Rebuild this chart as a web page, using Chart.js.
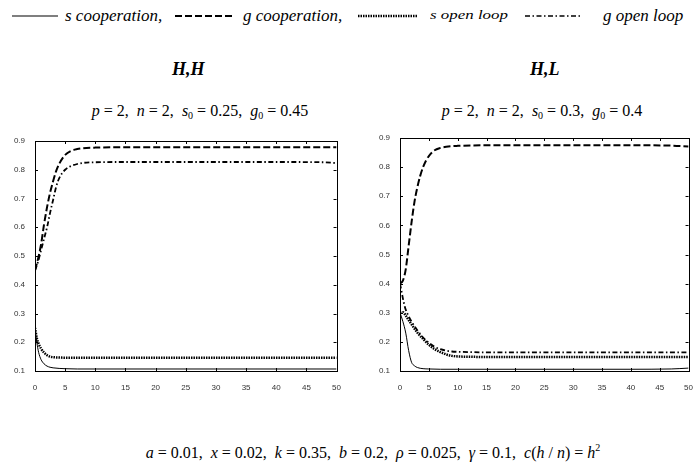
<!DOCTYPE html>
<html lang="en">
<head>
  <meta charset="UTF-8">
  <title>H,H and H,L trajectories</title>
  <script src="https://cdn.jsdelivr.net/npm/chart.js"></script>
  <style>
    html, body {
      margin: 0;
      padding: 0;
      background: #fff;
      width: 697px;
      height: 466px;
      overflow: hidden;
    }

    .txt {
      position: absolute;
      font-family: "Liberation Serif", "Times New Roman", serif;
      color: #000;
      white-space: nowrap;
      line-height: 1;
    }

    .legend { font-size: 17px; font-style: italic; top: 7px; }
    .legend.small { font-size: 13px; top: 8px; transform: scaleX(1.3); transform-origin: left center; }
    .title { font-size: 18px; font-weight: bold; font-style: italic; top: 60px; }
    .sub { font-size: 16px; top: 103px; text-align: center; }
    .formula { font-size: 16px; top: 443px; left: 0; width: 746px; text-align: center; }
    sub { font-size: 10px; vertical-align: -3px; }
    sup { font-size: 10px; vertical-align: 7px; }

    .chart-box { position: absolute; }
    svg.key { position: absolute; top: 10px; }
  </style>
</head>
<body>

  <!-- legend row -->
  <svg class="key" style="left:12px" width="46" height="12"><line x1="0" y1="6" x2="46" y2="6" stroke="#000" stroke-width="1.2"/></svg>
  <div class="txt legend" style="left:65px">s cooperation,</div>
  <svg class="key" style="left:175px" width="57" height="12"><line x1="0" y1="6" x2="57" y2="6" stroke="#000" stroke-width="2" stroke-dasharray="7,3"/></svg>
  <div class="txt legend" style="left:243px">g cooperation,</div>
  <svg class="key" style="left:358px" width="60" height="12"><line x1="0" y1="6" x2="60" y2="6" stroke="#000" stroke-width="2.5" stroke-dasharray="1.5,1"/></svg>
  <div class="txt legend small" style="left:430px">s open loop</div>
  <svg class="key" style="left:525px" width="57" height="12"><line x1="0" y1="6" x2="57" y2="6" stroke="#000" stroke-width="1.6" stroke-dasharray="5,2.5,1.5,2.5"/></svg>
  <div class="txt legend" style="left:603px">g open loop</div>

  <!-- panel titles -->
  <div class="txt title" style="left:172px">H,H</div>
  <div class="txt title" style="left:530px">H,L</div>

  <div class="txt sub" style="left:80px;width:240px"><i>p</i> = 2,&nbsp; <i>n</i> = 2,&nbsp; <i>s</i><sub>0</sub> = 0.25,&nbsp; <i>g</i><sub>0</sub> = 0.45</div>
  <div class="txt sub" style="left:422px;width:240px"><i>p</i> = 2,&nbsp; <i>n</i> = 2,&nbsp; <i>s</i><sub>0</sub> = 0.3,&nbsp; <i>g</i><sub>0</sub> = 0.4</div>

  <div class="chart-box" style="left:0px;top:132px;width:345px;height:260px"><canvas id="chartHH"></canvas></div>
  <div class="chart-box" style="left:362px;top:130px;width:335px;height:262px"><canvas id="chartHL"></canvas></div>

  <div class="txt formula"><i>a</i> = 0.01,&nbsp; <i>x</i> = 0.02,&nbsp; <i>k</i> = 0.35,&nbsp; <i>b</i> = 0.2,&nbsp; <i>ρ</i> = 0.025,&nbsp; <i>γ</i> = 0.1,&nbsp; <i>c</i>(<i>h</i> / <i>n</i>) = <i>h</i><sup>2</sup></div>

  <script>
    // ---- H,H panel (p=2, n=2, s0=0.25, g0=0.45) ----
    const sCoopHH_t = [0, 0.3, 0.6, 1, 1.5, 2, 2.5, 3, 4, 5, 7, 10, 20, 30, 40, 50];
    const sCoopHH   = [0.25, 0.2, 0.165, 0.14, 0.125, 0.117, 0.113, 0.111, 0.109, 0.108, 0.107, 0.107, 0.107, 0.107, 0.107, 0.107];

    const gCoopHH_t = [0, 0.5, 1, 1.5, 2, 2.5, 3, 3.5, 4, 5, 6, 7, 8, 10, 15, 20, 30, 40, 50];
    const gCoopHH   = [0.45, 0.49, 0.54, 0.61, 0.67, 0.72, 0.76, 0.795, 0.82, 0.852, 0.866, 0.872, 0.875, 0.877, 0.878, 0.878, 0.878, 0.878, 0.878];

    const sOpenHH_t = [0, 0.3, 0.6, 1, 1.5, 2, 2.5, 3, 4, 5, 10, 20, 30, 40, 50];
    const sOpenHH   = [0.25, 0.215, 0.195, 0.178, 0.164, 0.155, 0.15, 0.148, 0.147, 0.146, 0.146, 0.146, 0.146, 0.146, 0.146];

    const gOpenHH_t = [0, 0.5, 1, 1.5, 2, 2.5, 3, 3.5, 4, 5, 6, 7, 8, 10, 15, 20, 30, 40, 48, 50];
    const gOpenHH   = [0.45, 0.48, 0.52, 0.56, 0.6, 0.65, 0.695, 0.74, 0.77, 0.8, 0.813, 0.82, 0.824, 0.826, 0.827, 0.827, 0.827, 0.827, 0.826, 0.823];

    // ---- H,L panel (p=2, n=2, s0=0.3, g0=0.4) ----
    const sCoopHL_t = [0, 0.5, 1, 1.5, 2, 2.5, 3, 4, 5, 7, 10, 20, 30, 40, 47, 50];
    const sCoopHL   = [0.3, 0.27, 0.23, 0.17, 0.13, 0.118, 0.112, 0.108, 0.107, 0.106, 0.106, 0.106, 0.106, 0.106, 0.107, 0.11];

    const gCoopHL_t = [0, 0.5, 1, 1.5, 2, 2.5, 3, 3.5, 4, 4.5, 5, 6, 7, 8, 10, 15, 20, 30, 40, 47, 50];
    const gCoopHL   = [0.4, 0.41, 0.45, 0.53, 0.61, 0.68, 0.73, 0.77, 0.8, 0.822, 0.838, 0.858, 0.866, 0.87, 0.873, 0.875, 0.875, 0.875, 0.875, 0.874, 0.871];

    const sOpenHL_t = [0, 0.5, 1, 1.5, 2, 3, 4, 5, 6, 7, 8, 9, 10, 12, 15, 20, 30, 40, 50];
    const sOpenHL   = [0.3, 0.302, 0.29, 0.275, 0.26, 0.232, 0.21, 0.19, 0.175, 0.165, 0.157, 0.152, 0.15, 0.149, 0.148, 0.148, 0.148, 0.148, 0.148];

    const gOpenHL_t = [0, 0.3, 0.6, 1, 1.5, 2, 3, 4, 5, 6, 7, 8, 9, 10, 12, 15, 20, 30, 40, 50];
    const gOpenHL   = [0.4, 0.37, 0.34, 0.31, 0.288, 0.27, 0.24, 0.215, 0.197, 0.183, 0.175, 0.17, 0.167, 0.166, 0.165, 0.164, 0.164, 0.164, 0.164, 0.164];

    const xTicks = [0, 5, 10, 15, 20, 25, 30, 35, 40, 45, 50];
    const yTicks = [0.1, 0.2, 0.3, 0.4, 0.5, 0.6, 0.7, 0.8, 0.9];

    // line styles shared by both panels
    const styles = {
      sCoop: { borderWidth: 1, borderDash: [] },
      gCoop: { borderWidth: 2, borderDash: [7, 3] },
      sOpen: { borderWidth: 2.5, borderDash: [1.5, 1] },
      gOpen: { borderWidth: 1.8, borderDash: [5, 2.5, 1.5, 2.5] }
    };

    function series(t, v, style) {
      return Object.assign({
        data: t.map((x, i) => ({ x: x, y: v[i] })),
        borderColor: '#000',
        pointRadius: 0,
        fill: false,
        cubicInterpolationMode: 'monotone'
      }, style);
    }

    // box around the axes with inward tick marks on all four sides
    const frameTicks = {
      id: 'frameTicks',
      afterDraw(chart) {
        const { ctx, chartArea: a, scales } = chart;
        ctx.save();
        ctx.strokeStyle = '#000';
        ctx.lineWidth = 1;
        ctx.strokeRect(Math.round(a.left) + 0.5, Math.round(a.top) + 0.5,
          Math.round(a.right - a.left), Math.round(a.bottom - a.top));
        ctx.beginPath();
        xTicks.forEach(v => {
          const px = Math.round(scales.x.getPixelForValue(v)) + 0.5;
          ctx.moveTo(px, a.top); ctx.lineTo(px, a.top + 3);
          ctx.moveTo(px, a.bottom); ctx.lineTo(px, a.bottom - 3);
        });
        yTicks.forEach(v => {
          const py = Math.round(scales.y.getPixelForValue(v)) + 0.5;
          ctx.moveTo(a.left, py); ctx.lineTo(a.left + 3, py);
          ctx.moveTo(a.right, py); ctx.lineTo(a.right - 3, py);
        });
        ctx.stroke();
        ctx.restore();
      }
    };

    function makeChart(id, sets, yWidth, pad) {
      new Chart(document.getElementById(id), {
        type: 'line',
        data: { datasets: sets },
        options: {
          responsive: true,
          maintainAspectRatio: false,
          animation: false,
          events: [],
          layout: { padding: pad },
          plugins: { legend: { display: false }, tooltip: { enabled: false } },
          scales: {
            x: {
              type: 'linear', min: 0, max: 50,
              grid: { display: false },
              border: { display: false },
              afterBuildTicks: s => { s.ticks = xTicks.map(v => ({ value: v })); },
              afterFit: s => { s.height = 21; },
              ticks: {
                padding: 4, maxRotation: 0, autoSkip: false,
                color: '#333', font: { family: 'Liberation Sans', size: 8 }
              }
            },
            y: {
              type: 'linear', min: 0.1, max: 0.9,
              grid: { display: false },
              border: { display: false },
              afterBuildTicks: s => { s.ticks = yTicks.map(v => ({ value: v })); },
              afterFit: s => { s.width = yWidth; },
              ticks: {
                padding: 2, autoSkip: false,
                color: '#333', font: { family: 'Liberation Sans', size: 8 },
                callback: v => v.toFixed(1)
              }
            }
          }
        },
        plugins: [frameTicks]
      });
    }

    makeChart('chartHH', [
      series(sCoopHH_t, sCoopHH, styles.sCoop),
      series(gCoopHH_t, gCoopHH, styles.gCoop),
      series(sOpenHH_t, sOpenHH, styles.sOpen),
      series(gOpenHH_t, gOpenHH, styles.gOpen)
    ], 35, { top: 9, right: 8, left: 0, bottom: 0 });

    makeChart('chartHL', [
      series(sCoopHL_t, sCoopHL, styles.sCoop),
      series(gCoopHL_t, gCoopHL, styles.gCoop),
      series(sOpenHL_t, sOpenHL, styles.sOpen),
      series(gOpenHL_t, gOpenHL, styles.gOpen)
    ], 38, { top: 8, right: 7, left: 0, bottom: 0 });
  </script>
</body>
</html>
